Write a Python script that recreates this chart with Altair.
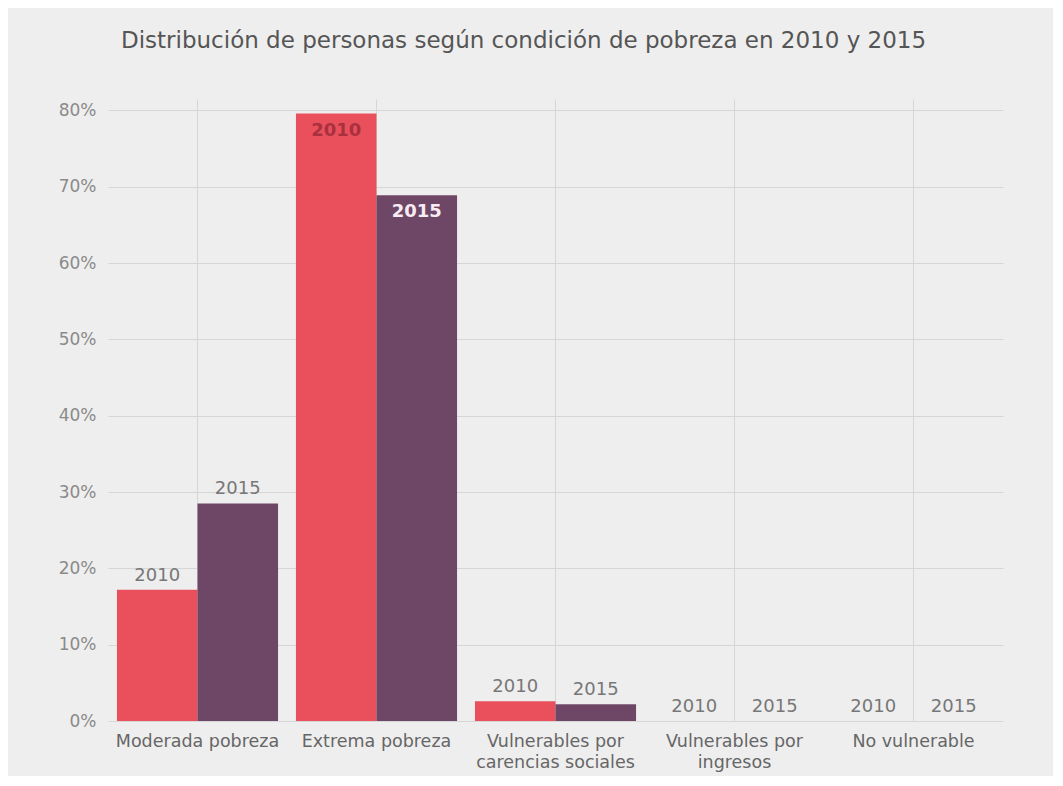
import altair as alt
import pandas as pd

categories = [
    "Moderada pobreza",
    "Extrema pobreza",
    "Vulnerables por\ncarencias sociales",
    "Vulnerables por\ningresos",
    "No vulnerable",
]
years = ["2010", "2015"]
values_2010 = [17.2, 79.6, 2.6, 0.0, 0.0]
values_2015 = [28.5, 68.9, 2.2, 0.0, 0.0]
label_inside = [False, True, False, False, False]
y_ticks = [0, 10, 20, 30, 40, 50, 60, 70, 80]

rows = []
for i, cat in enumerate(categories):
    for yr, vals in zip(years, [values_2010, values_2015]):
        rows.append({"cat": cat, "year": yr, "value": vals[i], "inside": label_inside[i]})
df = pd.DataFrame(rows)

FONT = "DejaVu Sans"

base = alt.Chart(df).encode(
    x=alt.X(
        "cat:N",
        sort=categories,
        scale=alt.Scale(paddingInner=0.1, paddingOuter=0.05),
        axis=alt.Axis(
            title=None,
            labelAngle=0,
            labelExpr="split(datum.label, '\\n')",
            labelFont=FONT,
            labelFontSize=17.5,
            labelColor="#666666",
            labelPadding=11,
            labelLineHeight=21,
            ticks=False,
            domain=False,
            grid=True,
            gridColor="#D6D6D6",
        ),
    ),
    xOffset=alt.XOffset("year:N", sort=years, scale=alt.Scale(paddingInner=0, paddingOuter=0)),
    y=alt.Y(
        "value:Q",
        scale=alt.Scale(domain=[0, 81.5], nice=False),
        axis=alt.Axis(
            title=None,
            values=y_ticks,
            labelExpr="datum.value + '%'",
            labelFont=FONT,
            labelFontSize=17,
            labelColor="#8A8A8A",
            labelPadding=12,
            ticks=False,
            domain=False,
            grid=True,
            gridColor="#D6D6D6",
        ),
    ),
)

bars = base.mark_bar().encode(
    color=alt.Color(
        "year:N",
        scale=alt.Scale(domain=years, range=["#E9505C", "#6F4766"]),
        legend=None,
    )
)

out_labels = base.transform_filter("!datum.inside").mark_text(
    baseline="alphabetic", dy=-9, font=FONT, fontSize=18, color="#777777"
).encode(text="year:N")

in_labels = base.transform_filter("datum.inside").mark_text(
    baseline="alphabetic", dy=22, font=FONT, fontSize=18, fontWeight="bold"
).encode(
    text="year:N",
    color=alt.condition("datum.year == '2010'", alt.value("#A8303F"), alt.value("#F8ECF4")),
)

chart = (
    alt.layer(bars, out_labels, in_labels)
    .properties(
        width=895,
        height=622,
        background="#EEEEEE",
        padding={"left": 100, "top": 91, "right": 50, "bottom": 55},
        autosize=alt.AutoSizeParams(type="none"),
        title=alt.TitleParams(
            "Distribución de personas según condición de pobreza en 2010 y 2015",
            anchor="start",
            frame="group",
            dx=13,
            offset=46,
            font=FONT,
            fontSize=23,
            fontWeight="normal",
            color="#555555",
        ),
    )
    .configure_view(stroke=None)
)

chart.save("out.html", embed_options={"renderer": "svg", "actions": False})
